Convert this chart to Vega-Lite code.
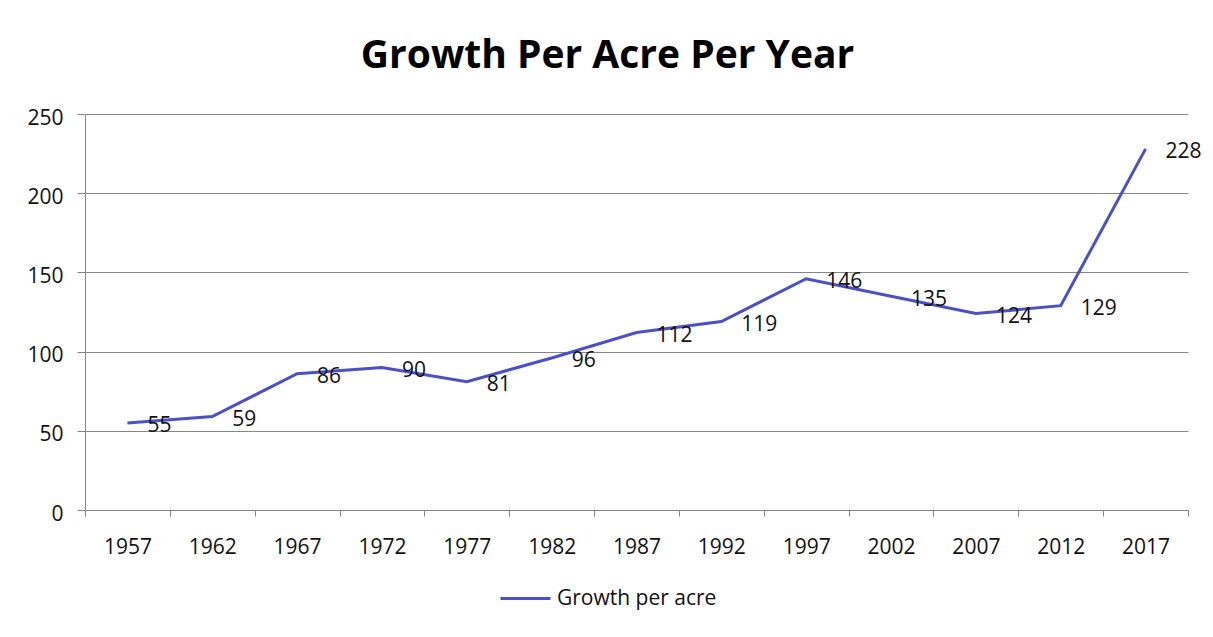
{
  "$schema": "https://vega.github.io/schema/vega-lite/v6.json",
  "width": 1103,
  "height": 396,
  "autosize": {"type": "none"},
  "padding": {"left": 85, "top": 114, "right": 25, "bottom": 127},
  "background": "white",
  "title": {
    "text": "Growth Per Acre Per Year",
    "font": "Open Sans",
    "fontSize": 39,
    "fontWeight": "bold",
    "color": "#000000",
    "anchor": "middle",
    "dx": -29,
    "offset": 31
  },
  "data": {
    "values": [
      {"year": 1957, "growth": 55},
      {"year": 1962, "growth": 59},
      {"year": 1967, "growth": 86},
      {"year": 1972, "growth": 90},
      {"year": 1977, "growth": 81},
      {"year": 1982, "growth": 96},
      {"year": 1987, "growth": 112},
      {"year": 1992, "growth": 119},
      {"year": 1997, "growth": 146},
      {"year": 2002, "growth": 135},
      {"year": 2007, "growth": 124},
      {"year": 2012, "growth": 129},
      {"year": 2017, "growth": 228}
    ]
  },
  "layer": [
    {
      "mark": {"type": "line", "strokeWidth": 3},
      "encoding": {
        "x": {
          "field": "year",
          "type": "quantitative",
          "scale": {"domain": [1954.5, 2019.5], "nice": false, "zero": false},
          "axis": {
            "orient": "bottom",
            "title": null,
            "values": [1954.5, 1959.5, 1964.5, 1969.5, 1974.5, 1979.5, 1984.5, 1989.5, 1994.5, 1999.5, 2004.5, 2009.5, 2014.5, 2019.5],
            "labels": false,
            "ticks": true,
            "tickSize": 6,
            "tickColor": "#868686",
            "domainColor": "#868686",
            "grid": false
          }
        },
        "y": {
          "field": "growth",
          "type": "quantitative",
          "scale": {"domain": [0, 250], "nice": false},
          "axis": {
            "title": null,
            "values": [0, 50, 100, 150, 200, 250],
            "grid": true,
            "gridColor": "#868686",
            "gridOpacity": 1,
            "tickSize": 8,
            "tickColor": "#868686",
            "domainColor": "#868686",
            "labelPadding": 14,
            "labelOffset": 4,
            "labelFont": "Open Sans",
            "labelFontSize": 21,
            "labelColor": "#111111"
          }
        },
        "color": {
          "datum": "Growth per acre",
          "scale": {"range": ["#4b50c4"]},
          "legend": {
            "title": null,
            "orient": "none",
            "legendX": 414,
            "legendY": 458,
            "padding": 0,
            "symbolType": "stroke",
            "symbolSize": 2500,
            "symbolStrokeWidth": 3,
            "labelFont": "Open Sans",
            "labelFontSize": 21,
            "labelColor": "#111111",
            "labelOffset": 5
          }
        }
      }
    },
    {
      "mark": {
        "type": "text",
        "align": "left",
        "baseline": "middle",
        "dx": 20,
        "dy": 3.5,
        "font": "Open Sans",
        "fontSize": 21,
        "color": "#111111"
      },
      "encoding": {
        "x": {
          "field": "year",
          "type": "quantitative",
          "axis": {
            "orient": "bottom",
            "title": null,
            "values": [1957, 1962, 1967, 1972, 1977, 1982, 1987, 1992, 1997, 2002, 2007, 2012, 2017],
            "format": "d",
            "ticks": false,
            "tickSize": 0,
            "domain": false,
            "grid": false,
            "labelPadding": 26,
            "labelFont": "Open Sans",
            "labelFontSize": 21,
            "labelColor": "#111111"
          }
        },
        "y": {"field": "growth", "type": "quantitative"},
        "text": {"field": "growth", "type": "quantitative"}
      }
    }
  ],
  "resolve": {"axis": {"x": "independent"}},
  "config": {"view": {"stroke": null}}
}
